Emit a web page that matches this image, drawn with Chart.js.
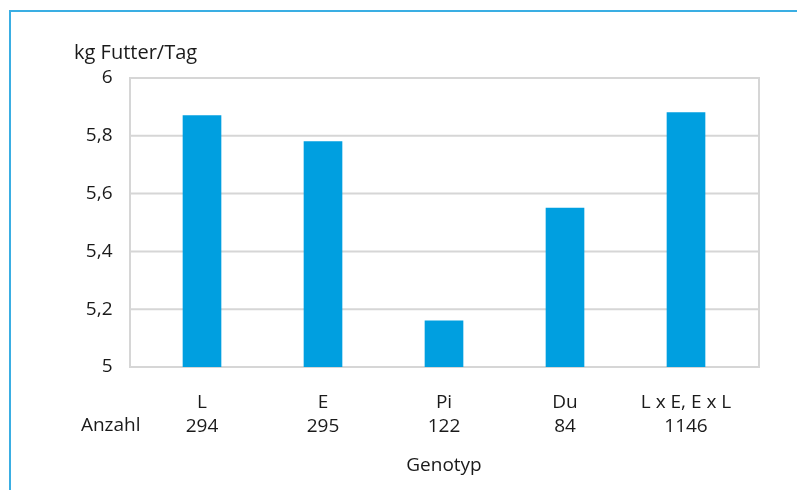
<!DOCTYPE html>
<html>
<head>
<meta charset="utf-8">
<script src="https://cdn.jsdelivr.net/npm/chart.js@4"></script>
<style>
    html, body { margin: 0; padding: 0; background: #fff; }
    #wrap { position: relative; width: 797px; height: 490px; }
    #frame { position: absolute; left: 9px; top: 10px; right: 0; bottom: 0;
             border-left: 2px solid #3aaee3; border-top: 2px solid #3aaee3; }
    canvas { position: absolute; left: 0; top: 0; }
</style>
</head>
<body>
<div id="wrap">
    <div id="frame"></div>
    <canvas id="chart" width="797" height="490"></canvas>
</div>
<script>
// Data
const genotypes = ["L", "E", "Pi", "Du", "L x E, E x L"];
const counts = ["294", "295", "122", "84", "1146"];
const feedPerDay = [5.87, 5.78, 5.16, 5.55, 5.88];
const yTicks = [5, 5.2, 5.4, 5.6, 5.8, 6];

const FONT = "'Open Sans', 'Noto Sans', sans-serif";
const GRID = "#d6d6d6";
const TEXT = "#1a1a1a";

// Frame + gridlines that reach a little beyond the bars' area
const framePlugin = {
    id: "framePlugin",
    beforeDatasetsDraw(chart) {
        const { ctx, chartArea, scales } = chart;
        const left = chartArea.left - 11.5;
        const right = chartArea.right + 12.5;
        ctx.save();
        ctx.strokeStyle = GRID;
        ctx.lineWidth = 2;
        yTicks.forEach(v => {
            const y = scales.y.getPixelForValue(v);
            ctx.beginPath();
            ctx.moveTo(left, y);
            ctx.lineTo(right, y);
            ctx.stroke();
        });
        ctx.beginPath();
        ctx.moveTo(left, chartArea.top - 1);
        ctx.lineTo(left, chartArea.bottom + 1);
        ctx.moveTo(right, chartArea.top - 1);
        ctx.lineTo(right, chartArea.bottom + 1);
        ctx.stroke();
        ctx.restore();
    },
    afterDraw(chart) {
        const { ctx, chartArea, scales } = chart;
        ctx.save();
        ctx.fillStyle = TEXT;
        ctx.font = "20px " + FONT;
        ctx.textBaseline = "middle";
        ctx.textAlign = "left";
        ctx.fillText("kg Futter/Tag", 74, 53);
        ctx.font = "19px " + FONT;
        ctx.textAlign = "right";
        ctx.fillText("Anzahl", chartArea.left - 1, scales.x.top + 59);
        ctx.restore();
    }
};

new Chart(document.getElementById("chart"), {
    type: "bar",
    data: {
        labels: genotypes.map((g, i) => [g, counts[i]]),
        datasets: [{
            data: feedPerDay,
            backgroundColor: "#009fe0",
            barThickness: 38
        }]
    },
    options: {
        responsive: false,
        animation: false,
        layout: { padding: { top: 78, right: 50.5, bottom: 13, left: 0 } },
        plugins: { legend: { display: false }, tooltip: { enabled: false } },
        scales: {
            x: {
                grid: { display: false },
                border: { display: false },
                ticks: {
                    color: TEXT,
                    font: { family: FONT, size: 19, lineHeight: 1.3 },
                    padding: 15,
                    maxRotation: 0,
                    autoSkip: false
                },
                title: {
                    display: true,
                    text: "Genotyp",
                    color: TEXT,
                    font: { family: FONT, size: 19 },
                    padding: { top: 0, bottom: 0 }
                },
                afterFit(scale) { scale.height = 110; }
            },
            y: {
                min: 5,
                max: 6,
                afterBuildTicks(scale) { scale.ticks = yTicks.map(v => ({ value: v })); },
                grid: { display: false },
                border: { display: false },
                ticks: {
                    color: TEXT,
                    font: { family: FONT, size: 19 },
                    padding: 21,
                    callback: v => String(Number(v.toFixed(1))).replace(".", ",")
                },
                afterFit(scale) { scale.width = 141.5; }
            }
        }
    },
    plugins: [framePlugin]
});
</script>
</body>
</html>
